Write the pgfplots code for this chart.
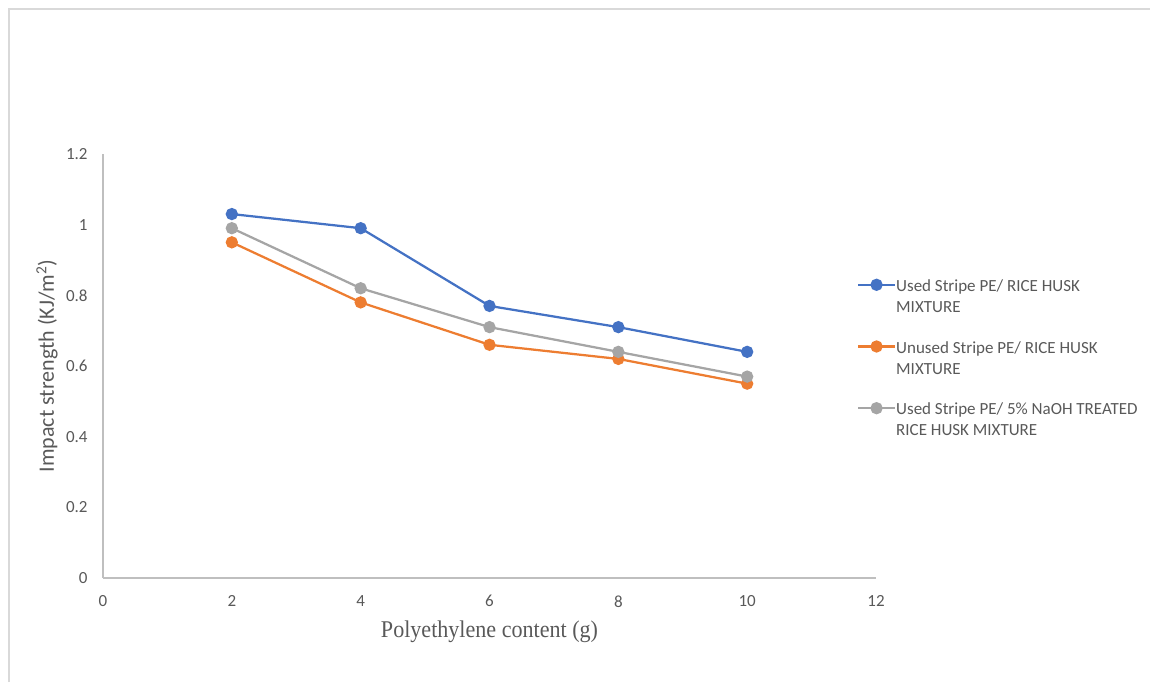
\documentclass[border=0pt]{standalone}
\usepackage{pgfplots}
\pgfplotsset{compat=1.18}
\usepackage{fontspec}
\setmainfont{Carlito}
\newfontfamily\serifx{Liberation Serif}
\definecolor{cBlue}{HTML}{4472C4}
\definecolor{cOrange}{HTML}{ED7D31}
\definecolor{cGray}{HTML}{A5A5A5}
\definecolor{axisgray}{HTML}{BFBFBF}
\definecolor{txtgray}{HTML}{595959}
\definecolor{framegray}{HTML}{D9D9D9}

\begin{document}
\begin{tikzpicture}[x=1pt,y=1pt]
\useasboundingbox (0,0) rectangle (1150,682);
% chart area frame
\draw[framegray, line width=1.5pt] (9,0) -- (9,673) -- (1151,673);
\begin{axis}[
  at={(103pt,104pt)}, anchor=south west,
  scale only axis, width=773pt, height=424pt,
  xmin=0, xmax=12, ymin=0, ymax=1.2,
  xtick={0,2,4,6,8,10,12},
  ytick={0,0.2,0.4,0.6,0.8,1,1.2},
  axis x line*=bottom, axis y line*=left,
  axis line style={axisgray, line width=1.5pt, -},
  major tick length=0pt, tick style={draw=none},
  /pgf/number format/assume math mode=true,
  ticklabel style={font=\fontsize{17}{20}\selectfont, text=txtgray},
  xticklabel style={yshift=-13pt},
  yticklabel style={xshift=-11pt},
  xlabel={\serifx\scalebox{0.92}[1]{Polyethylene content (g)}},
  xlabel style={font=\fontsize{24}{28}\selectfont, text=txtgray,
    at={(axis description cs:0.5,-0.127)}, anchor=center},
  ylabel={Impact strength (KJ/m\textsuperscript{2})},
  ylabel style={font=\fontsize{22}{26}\selectfont, text=txtgray,
    at={(axis description cs:-0.0724,0.5)}, anchor=center},
  line width=2.25pt,
  mark size=5pt,
  legend style={at={(axis description cs:0.97,0.718)}, anchor=north west,
    draw=none, fill=none, font=\fontsize{17}{21}\selectfont,
    text=txtgray, row sep=45.5pt,
    nodes={align=left, inner sep=0pt}},
  legend cell align=left,
  legend image code/.code={
    \draw[#1, mark=none] (-6pt,0pt) -- (31pt,0pt);
    \draw[#1, only marks] plot coordinates {(12.5pt,0pt)};
  },
]
\addplot[color=cBlue, mark=*] coordinates {
  (2,1.03) (4,0.99) (6,0.77) (8,0.71) (10,0.64)};
\addlegendentry{\begin{tabular}[t]{@{}l@{}}Used Stripe PE/ RICE HUSK\\MIXTURE\end{tabular}}
\addplot[color=cOrange, mark=*] coordinates {
  (2,0.95) (4,0.78) (6,0.66) (8,0.62) (10,0.55)};
\addlegendentry{\begin{tabular}[t]{@{}l@{}}Unused Stripe PE/ RICE HUSK\\MIXTURE\end{tabular}}
\addplot[color=cGray, mark=*] coordinates {
  (2,0.99) (4,0.82) (6,0.71) (8,0.64) (10,0.57)};
\addlegendentry{\begin{tabular}[t]{@{}l@{}}Used Stripe PE/ 5\% NaOH TREATED\\RICE HUSK MIXTURE\end{tabular}}
\end{axis}
\end{tikzpicture}
\end{document}
